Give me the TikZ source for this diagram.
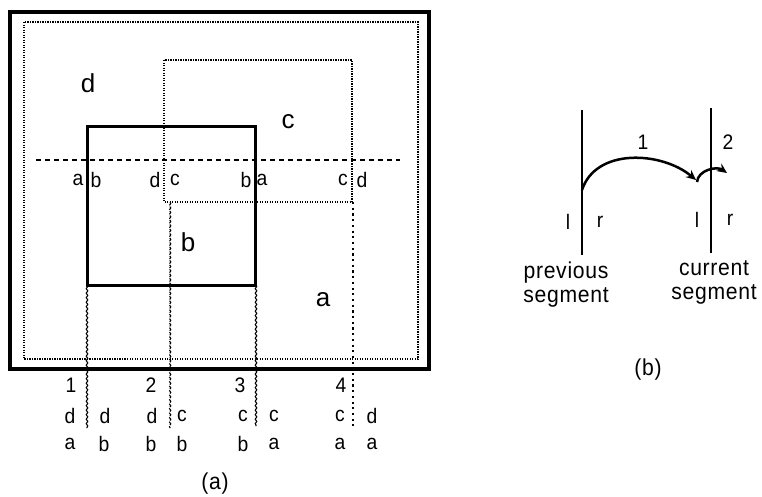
\documentclass[tikz,border=0pt]{standalone}
\usepackage{fontspec}
\setmainfont{Liberation Sans}
\newfontfamily\capfont[FakeStretch=0.92,LetterSpace=3]{Liberation Sans}
\usetikzlibrary{decorations.pathmorphing,arrows.meta}
\begin{document}
\begin{tikzpicture}[x=1pt,y=-1pt,
  frame/.style={line width=3.5pt},
  regionb/.style={line width=3pt},
  fine/.style={line width=1.8pt,dash pattern=on 1.2pt off 1.3pt},
  scan/.style={line width=1.6pt,dash pattern=on 5pt off 4pt},
  wavy/.style={line width=1.1pt,decorate,decoration={snake,segment length=4.5pt,amplitude=0.8pt}},
  wavydash/.style={wavy,dash pattern=on 4pt off 1.5pt},
  dotline/.style={line width=2.8pt,dash pattern=on 2.2pt off 3.5pt},
  seg/.style={line width=2.4pt},
  hop/.style={line width=2.5pt,-{Stealth[length=10pt,width=9pt,inset=3.5pt]}},
  big/.style={font=\fontsize{26}{26}\selectfont},
  lab/.style={font=\capfont\fontsize{21}{21}\selectfont,inner sep=0pt},
  txt/.style={font=\capfont\fontsize{23}{24}\selectfont,inner sep=0pt,align=center}]
\useasboundingbox (0,0) rectangle (762,496);

% ---- (a) plane sweep over nested regions ----
\draw[frame] (10,12) rectangle (429,369);
\draw[fine] (24,22) rectangle (418,359);
\draw[fine] (164,60) rectangle (352,202);
\draw[regionb] (87,126) rectangle (255,285);
\draw[scan] (36,160) -- (400,160);

\coordinate (s1t) at (87,285);  \coordinate (s1b) at (87,428);
\coordinate (s2t) at (170,202); \coordinate (s2b) at (170,428);
\coordinate (s3t) at (256,285); \coordinate (s3b) at (256,426);
\coordinate (s4t) at (353,202); \coordinate (s4b) at (353,426);
\draw[wavy] (s1t) -- (s1b);
\draw[wavydash] (s2t) -- (s2b);
\draw[wavy] (s3t) -- (s3b);
\draw[dotline] (s4t) -- (s4b);

\node[big] (rd) at (88,83) {d};
\node[big] (rc) at (288,122) {c};
\node[big] (rb) at (188,242) {b};
\node[big] (ra) at (323,300) {a};

\foreach \x/\t [count=\i] in {78/a,96/b,155/d,175/c,246/b,262/a,343/c,362/d}
  \node[lab] (e\i) at (\x,180) {\t};
\foreach \x/\t [count=\i] in {71/1,151/2,240/3,341/4}
  \node[lab] (n\i) at (\x,385) {\t};
\foreach \x/\t [count=\i] in {70/d,105/d,152/d,182/c,243/c,274/c,340/c,372/d}
  \node[lab] (u\i) at (\x,416) {\t};
\foreach \x/\t [count=\i] in {70/a,104/b,151/b,182/b,243/b,274/a,340/a,372/a}
  \node[lab] (v\i) at (\x,444) {\t};
\node[txt] (capa) at (215,484) {(a)};

% ---- (b) moving from the previous to the current segment ----
\coordinate (pt) at (582,110); \coordinate (pb) at (582,255);
\coordinate (ct) at (711,108); \coordinate (cb) at (711,253);
\draw[seg] (pt) -- (pb);
\draw[seg] (ct) -- (cb);
\coordinate (h0) at (582,190);
\coordinate (h1) at (696,180);
\coordinate (h2) at (727,173);
\draw[hop] (h0) to[out=72,in=140] (h1);
\draw[hop] (697,182) to[out=85,in=145] (h2);
\node[lab] (k1) at (643,142) {1};
\node[lab] (k2) at (728,142) {2};
\node[lab] (pl) at (568,222) {l};
\node[lab] (pr) at (600,222) {r};
\node[lab] (cl) at (697,220) {l};
\node[lab] (cr) at (730,220) {r};
\node[txt] (prev) at (566,285) {previous\\segment};
\node[txt] (curr) at (714,282) {current\\segment};
\node[txt] (capb) at (648,370) {(b)};
\end{tikzpicture}
\end{document}
